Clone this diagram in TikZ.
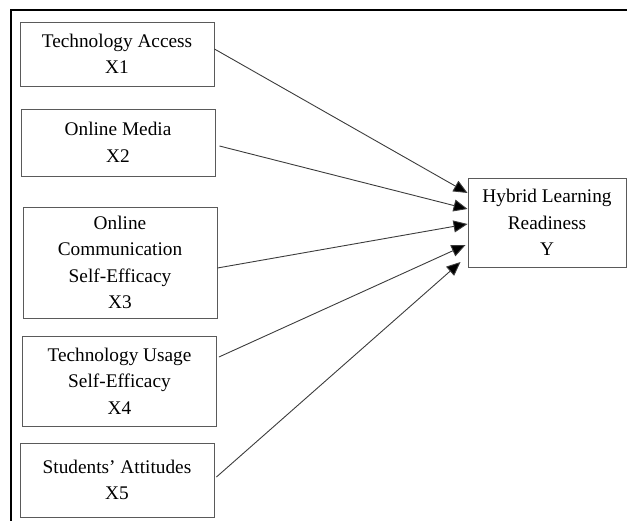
\documentclass[tikz,border=0pt]{standalone}
\usepackage{fontspec}
\setmainfont{Liberation Serif}
\usetikzlibrary{arrows.meta}
\definecolor{boxgray}{RGB}{90,90,90}
\definecolor{linegray}{RGB}{60,60,60}

\begin{document}
\begin{tikzpicture}[x=1pt,y=-1pt,
  var/.style={draw=boxgray,line width=0.9pt,align=center,inner sep=0pt,font=\fontsize{19.3}{26.5}\selectfont},
  arr/.style={-{Triangle[length=14pt,width=12pt,fill=black]},line width=0.9pt,draw=linegray}]
\useasboundingbox (0,0) rectangle (627,521);
% outer frame, top and left only
\draw[line width=1.6pt] (11,521) -- (11,10) -- (627,10);
\node[var,minimum width=194pt,minimum height=64pt] (acc) at (117,54) {Technology Access\\X1};
\node[var,minimum width=194pt,minimum height=67pt] (med) at (118,142.5) {Online Media\\X2};
\node[var,minimum width=194pt,minimum height=111pt] (com) at (120,262.5) {Online\\Communication\\Self-Efficacy\\X3};
\node[var,minimum width=194pt,minimum height=90pt] (use) at (119.5,381) {Technology Usage\\Self-Efficacy\\X4};
\node[var,minimum width=194pt,minimum height=74pt] (att) at (117,480) {Students' Attitudes\\X5};
\node[var,minimum width=158pt,minimum height=89pt] (hlr) at (547,222.5) {Hybrid Learning\\Readiness\\Y};
\draw[arr] ([yshift=5pt]acc.east) -- ([yshift=29.5pt]hlr.west);
\draw[arr] ([xshift=4pt,yshift=-3.5pt]med.east) -- ([yshift=13.5pt]hlr.west);
\draw[arr] ([yshift=-5.5pt]com.east) -- ([yshift=-1.5pt]hlr.west);
\draw[arr] ([xshift=2pt,yshift=24pt]use.east) -- ([xshift=-2pt,yshift=-22.5pt]hlr.west);
\draw[arr] ([xshift=2pt,yshift=3pt]att.east) -- ([xshift=-7pt,yshift=-39.5pt]hlr.west);
\end{tikzpicture}
\end{document}
